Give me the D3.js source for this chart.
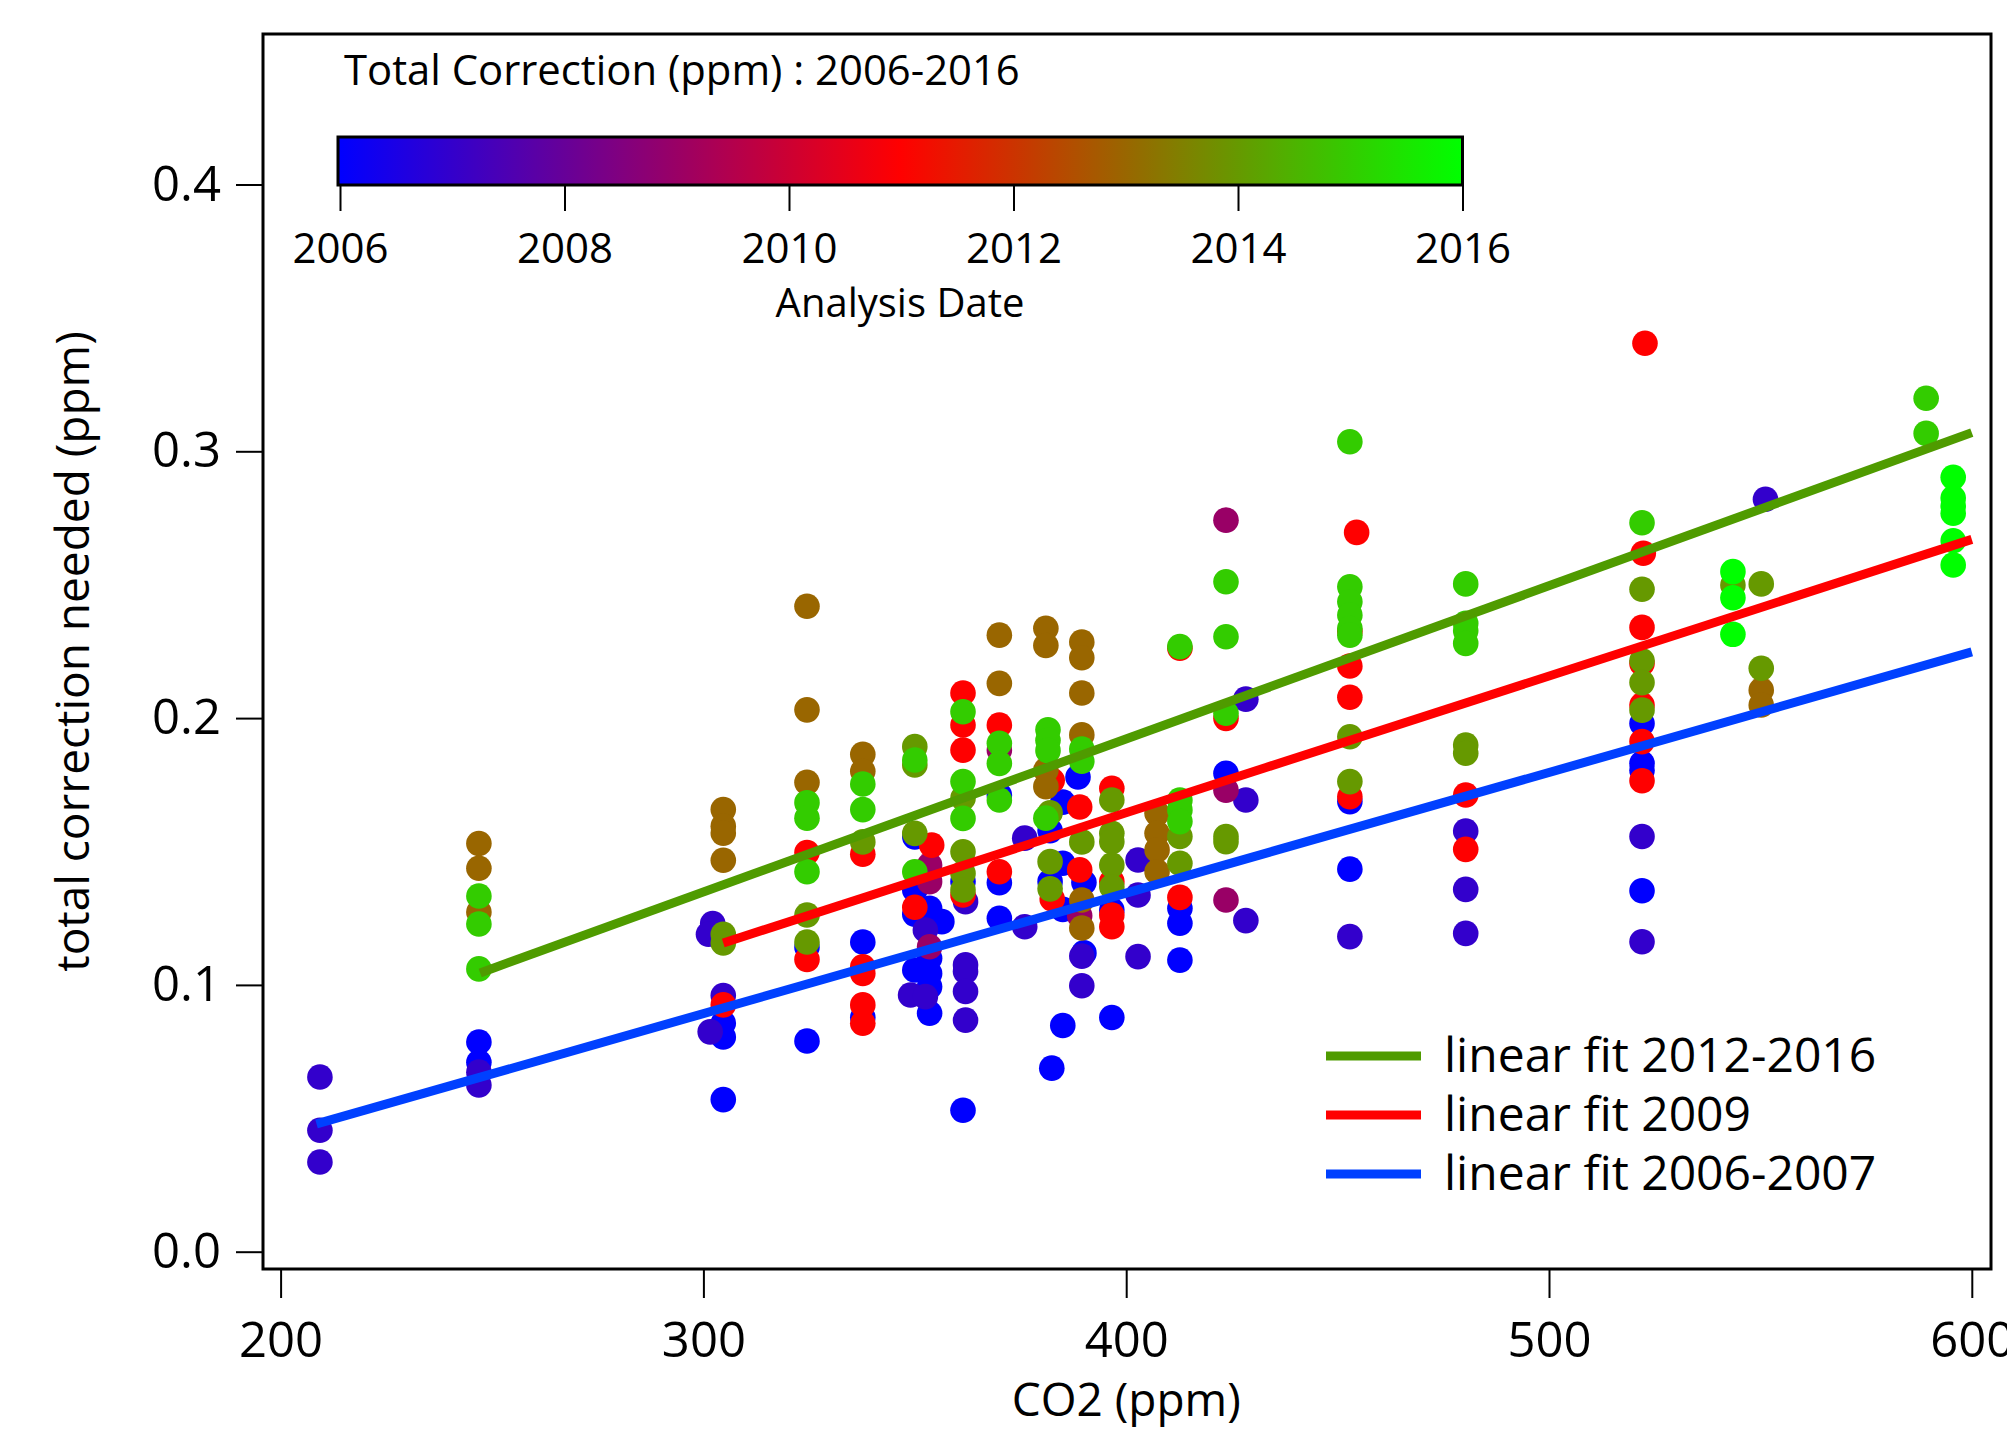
<!DOCTYPE html>
<html>
<head>
<meta charset="utf-8">
<script src="https://cdn.jsdelivr.net/npm/d3@7"></script>
<style>
  body { margin: 0; background: #fff; }
  svg { display: block; font-family: 'Open Sans', sans-serif; }
</style>
</head>
<body>
<svg width="2007" height="1430"></svg>
<script>
// points per analysis date: [CO2 (ppm), total correction (ppm)]
const points2006 = [
  [246.9, 0.0786], [246.9, 0.071], [304.7, 0.0857], [304.7, 0.0805], [304.7, 0.057],
  [324.5, 0.1142], [324.5, 0.079], [337.7, 0.1161], [337.7, 0.0878],
  [350, 0.1555], [350, 0.1356], [350, 0.1265], [350, 0.1056],
  [353.5, 0.1287], [353.5, 0.11], [353.5, 0.1043], [353.5, 0.0993], [353.5, 0.0894], [356.4, 0.1237],
  [361.4, 0.1387], [361.4, 0.053], [370, 0.1712], [370, 0.1383], [370, 0.125],
  [382, 0.1578], [382, 0.1387], [382.4, 0.0688],
  [385, 0.1685], [385, 0.1456], [385, 0.1283], [385, 0.0848],
  [388.6, 0.1779], [390, 0.1384], [390, 0.112],
  [396.6, 0.1281], [396.6, 0.0878],
  [412.7, 0.1287], [412.7, 0.1231], [412.7, 0.1093],
  [423.6, 0.1793], [452.9, 0.1687], [452.9, 0.1434],
  [522, 0.198], [522, 0.1831], [522, 0.1805], [522, 0.1353]
]
const points2007 = [
  [209.3, 0.0655], [209.3, 0.0455], [209.3, 0.0336], [246.9, 0.0673], [246.9, 0.0625],
  [302.2, 0.123], [301.2, 0.119], [301.6, 0.0824], [304.7, 0.096],
  [349, 0.0962], [352.5, 0.1206], [352.5, 0.0956],
  [362, 0.1312], [362, 0.1075], [362, 0.105], [362, 0.0975], [362, 0.0868],
  [376, 0.155], [376, 0.1218], [389.5, 0.1108], [389.5, 0.0997],
  [402.8, 0.1468], [402.8, 0.1337], [402.8, 0.1106],
  [428.3, 0.2071], [428.3, 0.1693], [428.3, 0.1241], [452.9, 0.1181],
  [480.3, 0.1577], [480.3, 0.1358], [480.3, 0.1193],
  [522, 0.1556], [522, 0.1162], [551.2, 0.282]
]
const points2009 = [
  [353.5, 0.1449], [353.5, 0.1387], [353.5, 0.1143], [370, 0.188], [389, 0.1259],
  [423.6, 0.2742], [423.6, 0.173], [423.6, 0.1318]
]
const points2011 = [
  [304.7, 0.0925], [324.5, 0.1496], [324.5, 0.1095],
  [337.7, 0.149], [337.7, 0.1068], [337.7, 0.1043], [337.7, 0.0925], [337.7, 0.0856],
  [350, 0.1291], [354, 0.1524],
  [361.4, 0.2094], [361.4, 0.1974], [361.4, 0.188], [361.4, 0.1337],
  [370, 0.1974], [370, 0.1424], [382.5, 0.1766], [382.5, 0.1322],
  [389, 0.1667], [389, 0.1431],
  [396.6, 0.1737], [396.6, 0.1387], [396.6, 0.1262], [396.6, 0.1218],
  [412.7, 0.2262], [412.7, 0.1328], [423.6, 0.1999],
  [454.5, 0.2696], [452.9, 0.2325], [452.9, 0.2195], [452.9, 0.2078], [452.9, 0.1705],
  [480.3, 0.1712], [480.3, 0.1508],
  [522.7, 0.3405], [522.3, 0.2618], [522, 0.234], [522, 0.2205], [522, 0.2049], [522, 0.1912], [522, 0.1765]
]
const points2013 = [
  [246.9, 0.153], [246.9, 0.1437], [246.9, 0.1273],
  [304.7, 0.1657], [304.7, 0.1595], [304.7, 0.1569], [304.7, 0.1467],
  [324.5, 0.2419], [324.5, 0.2031], [324.5, 0.1759], [337.7, 0.1864], [337.7, 0.1801],
  [370, 0.2311], [370, 0.213], [381, 0.2337], [381, 0.2272], [381, 0.1805], [381, 0.1743],
  [389.5, 0.2285], [389.5, 0.2226], [389.5, 0.2094], [389.5, 0.1937], [389.5, 0.1318], [389.5, 0.1213],
  [407.3, 0.1643], [407.3, 0.1568], [407.3, 0.1506], [407.3, 0.1424],
  [550.2, 0.2105], [550.2, 0.2049]
]
const points2014 = [
  [304.7, 0.119], [304.7, 0.1157], [324.5, 0.1262], [324.5, 0.1161], [337.7, 0.1536],
  [350, 0.1893], [350, 0.1824], [350, 0.1568],
  [361.4, 0.17], [361.4, 0.1499], [361.4, 0.1418], [361.4, 0.1356],
  [382, 0.1645], [382, 0.1462], [382, 0.136], [389.5, 0.1536],
  [396.6, 0.1693], [396.6, 0.1568], [396.6, 0.1537], [396.6, 0.1449], [396.6, 0.1368],
  [412.7, 0.1556], [412.7, 0.1456], [423.6, 0.1556], [423.6, 0.1537],
  [452.9, 0.193], [452.9, 0.1762], [480.3, 0.1899], [480.3, 0.1868],
  [522, 0.2483], [522, 0.2215], [522, 0.2133], [522, 0.203],
  [543.5, 0.2499], [550.2, 0.2503], [550.2, 0.2187]
]
const points2015 = [
  [246.9, 0.1333], [246.9, 0.1228], [246.9, 0.106],
  [324.5, 0.1683], [324.5, 0.1625], [324.5, 0.1424], [337.7, 0.1753], [337.7, 0.1657],
  [350, 0.1843], [350, 0.1424], [361.4, 0.2024], [361.4, 0.1762], [361.4, 0.1624],
  [370, 0.1906], [370, 0.183], [370, 0.1693],
  [381.5, 0.1956], [381.5, 0.1917], [381.5, 0.1878], [381, 0.1625],
  [389.5, 0.1884], [389.5, 0.1838],
  [412.7, 0.2268], [412.7, 0.1693], [412.7, 0.1656], [412.7, 0.1612],
  [423.6, 0.2511], [423.6, 0.2305], [423.6, 0.2018],
  [452.9, 0.3036], [452.9, 0.2492], [452.9, 0.2436], [452.9, 0.2386], [452.9, 0.2336], [452.9, 0.2311],
  [480.3, 0.2503], [480.3, 0.2355], [480.3, 0.2327], [480.3, 0.228],
  [522, 0.2732], [589.2, 0.3199], [589.2, 0.3067]
]
const points2016 = [
  [543.5, 0.2549], [543.5, 0.2451], [543.5, 0.2314],
  [595.6, 0.2903], [595.6, 0.2825], [595.6, 0.2795], [595.6, 0.2768], [595.6, 0.2665], [595.6, 0.2574]
]
const analysisYears = [2006, 2007, 2009, 2011, 2013, 2014, 2015, 2016]
const pointSets = [points2006, points2007, points2009, points2011, points2013, points2014, points2015, points2016]

// fit lines
const fitLabels = ['linear fit 2012-2016', 'linear fit 2009', 'linear fit 2006-2007']
const fitStartCO2 = [247.2, 304.7, 208.5]
const fitEndCO2 = [600, 600, 600]
const fitStartValue = [0.1045, 0.1157, 0.0479]
const fitEndValue = [0.307, 0.267, 0.2248]

const xTicks = [200, 300, 400, 500, 600]
const yTicks = [0, 0.1, 0.2, 0.3, 0.4]
const yearTicks = [2006, 2008, 2010, 2012, 2014, 2016]

const fitColors = ['#4f9b00', '#ff0000', '#0040ff']

const svg = d3.select('svg')

const frame = { left: 263, top: 34, right: 1991, bottom: 1269 }

const xScale = d3.scaleLinear().domain([200, 600]).range([280.6, 1971.8])
const yScale = d3.scaleLinear().domain([0, 0.4]).range([1251.7, 184.5])

const colorScale = d3.scaleLinear()
  .domain([2006, 2011, 2016])
  .range(['#0000ff', '#ff0000', '#00ff00'])
  .interpolate(d3.interpolateRgb)

// frame
svg.append('rect')
  .attr('x', frame.left)
  .attr('y', frame.top)
  .attr('width', frame.right - frame.left)
  .attr('height', frame.bottom - frame.top)
  .attr('fill', 'none')
  .attr('stroke', '#000')
  .attr('stroke-width', 3)

// axes
const xAxisGroup = svg.append('g')
  .attr('transform', `translate(0, ${frame.bottom})`)
  .call(d3.axisBottom(xScale).tickValues(xTicks).tickSize(29).tickPadding(24).tickFormat(d3.format('d')))
xAxisGroup.select('.domain').remove()

const yAxisGroup = svg.append('g')
  .attr('transform', `translate(${frame.left}, 0)`)
  .call(d3.axisLeft(yScale).tickValues(yTicks).tickSize(27).tickPadding(15).tickFormat(d3.format('.1f')))
yAxisGroup.select('.domain').remove()

svg.selectAll('.tick line').attr('stroke', '#000').attr('stroke-width', 2)
svg.selectAll('.tick text')
  .attr('fill', '#000')
  .attr('font-family', "'Open Sans', sans-serif")
  .attr('font-size', 49)

svg.append('text')
  .attr('x', (xScale(200) + xScale(600)) / 2)
  .attr('y', 1416)
  .attr('text-anchor', 'middle')
  .attr('font-size', 46)
  .text('CO2 (ppm)')

svg.append('text')
  .attr('transform', `translate(89, ${(frame.top + frame.bottom) / 2}) rotate(-90)`)
  .attr('text-anchor', 'middle')
  .attr('font-size', 46)
  .text('total correction needed (ppm)')

// colour bar
const cbScale = d3.scaleLinear().domain([2006, 2016]).range([340, 1462.5])
const cbTop = 137
const cbBottom = 185

const grad = svg.append('defs').append('linearGradient')
  .attr('id', 'cb-grad')
  .attr('x1', '0%').attr('x2', '100%')
grad.selectAll('stop')
  .data(d3.range(2006, 2016.01, 0.5))
  .join('stop')
  .attr('offset', d => `${(d - 2006) * 10}%`)
  .attr('stop-color', d => colorScale(d))

svg.append('rect')
  .attr('x', cbScale(2006) - 2)
  .attr('y', cbTop)
  .attr('width', cbScale(2016) - cbScale(2006) + 2)
  .attr('height', cbBottom - cbTop)
  .attr('fill', 'url(#cb-grad)')
  .attr('stroke', '#000')
  .attr('stroke-width', 3)

const cbAxisGroup = svg.append('g')
  .attr('transform', `translate(0, ${cbBottom})`)
  .call(d3.axisBottom(cbScale).tickValues(yearTicks).tickSize(26).tickPadding(22).tickFormat(d3.format('d')))
cbAxisGroup.select('.domain').remove()
cbAxisGroup.selectAll('.tick line').attr('stroke', '#000').attr('stroke-width', 2)
cbAxisGroup.selectAll('.tick text')
  .attr('fill', '#000')
  .attr('font-family', "'Open Sans', sans-serif")
  .attr('font-size', 42)

svg.append('text')
  .attr('x', 344)
  .attr('y', 85)
  .attr('font-size', 41.8)
  .text('Total Correction (ppm) : 2006-2016')

svg.append('text')
  .attr('x', 900)
  .attr('y', 317)
  .attr('text-anchor', 'middle')
  .attr('font-size', 40)
  .text('Analysis Date')

// points, later analysis dates drawn on top
const points = []
pointSets.forEach((set, i) => {
  set.forEach(p => points.push({ co2: p[0], value: p[1], year: analysisYears[i] }))
})

svg.append('g')
  .selectAll('circle')
  .data(points)
  .join('circle')
  .attr('cx', d => xScale(d.co2))
  .attr('cy', d => yScale(d.value))
  .attr('r', 12.8)
  .attr('fill', d => colorScale(d.year))

// fit lines
const lineGenerator = d3.line()
  .x(d => xScale(d[0]))
  .y(d => yScale(d[1]))

fitLabels.forEach((label, i) => {
  svg.append('path')
    .attr('d', lineGenerator([[fitStartCO2[i], fitStartValue[i]], [fitEndCO2[i], fitEndValue[i]]]))
    .attr('fill', 'none')
    .attr('stroke', fitColors[i])
    .attr('stroke-width', 9)
})

// legend
const legend = svg.append('g')
fitLabels.forEach((label, i) => {
  const ly = 1056 + i * 59
  legend.append('line')
    .attr('x1', 1326).attr('x2', 1421)
    .attr('y1', ly).attr('y2', ly)
    .attr('stroke', fitColors[i])
    .attr('stroke-width', 9)
  legend.append('text')
    .attr('x', 1444)
    .attr('y', ly + 16)
    .attr('font-size', 48)
    .text(label)
})
</script>
</body>
</html>
